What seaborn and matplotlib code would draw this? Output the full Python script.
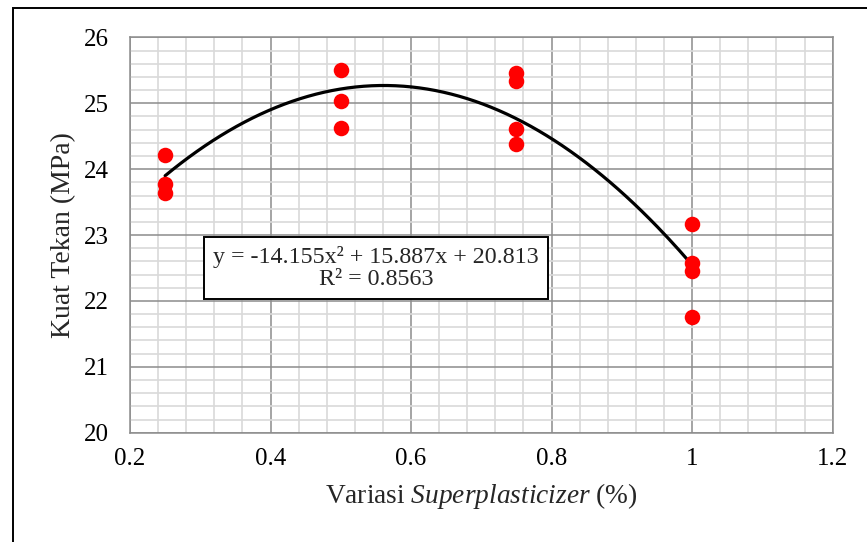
import numpy as np
import pandas as pd
import seaborn as sns
import matplotlib.pyplot as plt
from matplotlib.patches import Rectangle
from matplotlib.ticker import MultipleLocator

# superplasticizer variation (%) and compressive strength (MPa)
sp_025 = [24.22, 23.77, 23.64]
sp_050 = [25.50, 25.03, 24.63]
sp_075 = [25.46, 25.34, 24.61, 24.38]
sp_100 = [23.17, 22.57, 22.46, 21.75]
sp_levels = [0.25, 0.50, 0.75, 1.00]

# polynomial trendline (order 2) as printed on the chart
trend_coef = [-14.155, 15.887, 20.813]
trend_r2 = 0.8563

x_ticks = [0.2, 0.4, 0.6, 0.8, 1.0, 1.2]
x_tick_labels = ["0.2", "0.4", "0.6", "0.8", "1", "1.2"]
y_ticks = [20, 21, 22, 23, 24, 25, 26]

groups = [sp_025, sp_050, sp_075, sp_100]
df = pd.DataFrame(
    [(lvl, v) for lvl, vals in zip(sp_levels, groups) for v in vals],
    columns=["sp", "kuat"],
)

trend_x = np.linspace(min(sp_levels), max(sp_levels), 200)
trend = pd.DataFrame({"sp": trend_x, "kuat": np.polyval(trend_coef, trend_x)})

sns.set_style("white")
plt.rcParams["font.family"] = ["Liberation Serif", "DejaVu Serif"]
plt.rcParams["mathtext.fontset"] = "custom"
plt.rcParams["mathtext.rm"] = "Liberation Serif"
plt.rcParams["mathtext.it"] = "Liberation Serif:italic"

fig = plt.figure(figsize=(8.67, 5.42), dpi=100)
ax = fig.add_axes([0.1499, 0.2017, 0.8105, 0.7292])

sns.lineplot(data=trend, x="sp", y="kuat", color="black", linewidth=2.3, ax=ax, zorder=3)
sns.scatterplot(data=df, x="sp", y="kuat", color="#ff0000", s=125, linewidth=0, ax=ax, zorder=4)

ax.set_xlim(0.2, 1.2)
ax.set_ylim(20, 26)
ax.set_xticks(x_ticks)
ax.set_xticklabels(x_tick_labels)
ax.set_yticks(y_ticks)
ax.xaxis.set_minor_locator(MultipleLocator(0.04))
ax.yaxis.set_minor_locator(MultipleLocator(0.2))
ax.grid(which="minor", color="#d9d9d9", linewidth=1.2, zorder=0)
ax.grid(which="major", color="#8c8c8c", linewidth=1.1, zorder=1)
ax.set_axisbelow(True)
for sp in ax.spines.values():
    sp.set_color("#8c8c8c")
    sp.set_linewidth(1.1)
ax.tick_params(which="both", length=0, labelsize=18, colors="black")
ax.tick_params(axis="y", pad=15.5)
ax.tick_params(axis="x", pad=11)

ax.set_xlabel(r"Variasi $\mathit{Superplasticizer}$ (%)", fontsize=19.7, labelpad=8)
ax.set_ylabel("Kuat Tekan (MPa)", fontsize=20, labelpad=5)

eq = "y = {:.3f}x\u00b2 + {:.3f}x + {:.3f}\nR\u00b2 = {:.4f}".format(*trend_coef, trend_r2)
ax.text(0.5501, 22.50, eq, fontsize=17.3, ha="center", va="center",
        multialignment="center", linespacing=1.05, zorder=5,
        bbox=dict(boxstyle="square,pad=0.37", facecolor="white",
                  edgecolor="black", linewidth=1.4))

fig.patches.append(Rectangle((0.015, -0.1), 1.2, 1.0852, transform=fig.transFigure,
                             fill=False, edgecolor="black", linewidth=1.4))

fig.savefig("out.png", dpi=100)
